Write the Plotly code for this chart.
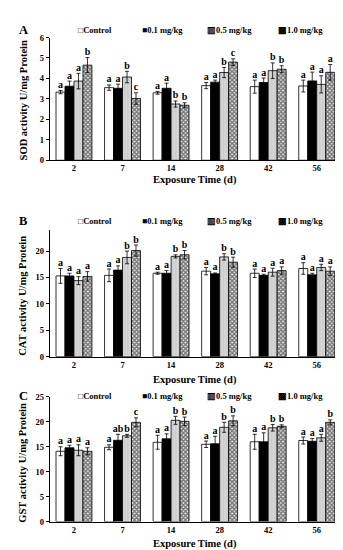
import plotly.graph_objects as go

W, H = 343, 550
days = ["2", "7", "14", "28", "42", "56"]
groups = ["Control", "0.1 mg/kg", "0.5 mg/kg", "1.0 mg/kg"]
legend_marks = ["\u25a1", "\u25a0", "\u25a5", "\u25a9"]

# SOD (panel A)
sod_control = [3.33, 3.55, 3.30, 3.65, 3.60, 3.63]
sod_control_err = [0.08, 0.13, 0.07, 0.15, 0.32, 0.29]
sod_01 = [3.62, 3.52, 3.52, 3.82, 3.80, 3.88]
sod_01_err = [0.25, 0.20, 0.25, 0.10, 0.22, 0.43]
sod_05 = [3.87, 4.07, 2.75, 4.29, 4.38, 3.71]
sod_05_err = [0.38, 0.28, 0.15, 0.25, 0.38, 0.42]
sod_10 = [4.65, 3.02, 2.69, 4.80, 4.45, 4.30]
sod_10_err = [0.37, 0.28, 0.12, 0.16, 0.17, 0.38]
sod_letters = [["a"] * 6, ["a"] * 6,
               ["a", "b", "b", "b", "b", "a"],
               ["b", "c", "b", "c", "b", "a"]]

# CAT (panel B)
cat_control = [15.3, 15.4, 15.8, 16.2, 15.8, 16.7]
cat_control_err = [1.4, 1.2, 0.2, 0.7, 0.8, 1.1]
cat_01 = [15.3, 16.4, 15.8, 15.7, 15.4, 15.5]
cat_01_err = [0.5, 0.8, 0.5, 0.15, 0.2, 0.3]
cat_05 = [14.4, 18.8, 19.0, 18.9, 16.0, 16.9]
cat_05_err = [0.75, 1.2, 0.3, 0.6, 0.75, 0.6]
cat_10 = [15.2, 20.1, 19.3, 17.9, 16.3, 16.2]
cat_10_err = [0.9, 1.05, 0.8, 0.95, 0.7, 0.8]
cat_letters = [["a"] * 6, ["a"] * 6,
               ["a", "b", "b", "b", "a", "a"],
               ["a", "b", "b", "b", "a", "a"]]

# GST (panel C)
gst_control = [14.1, 14.9, 15.9, 15.5, 16.0, 16.25]
gst_control_err = [0.9, 0.5, 1.4, 0.65, 1.5, 0.7]
gst_01 = [14.8, 16.3, 16.6, 15.6, 16.0, 16.1]
gst_01_err = [0.5, 1.2, 1.0, 1.5, 1.8, 0.55]
gst_05 = [14.3, 17.2, 20.3, 18.9, 18.8, 16.8]
gst_05_err = [1.1, 0.3, 0.8, 1.0, 0.65, 0.7]
gst_10 = [14.1, 19.9, 20.1, 20.2, 19.1, 19.9]
gst_10_err = [0.7, 0.9, 0.85, 1.0, 0.3, 0.5]
gst_letters = [["a"] * 6, ["a", "ab", "a", "a", "a", "a"],
               ["a", "b", "b", "b", "b", "a"],
               ["a", "c", "b", "b", "b", "b"]]

panels = [
    dict(label="A", title="SOD activity U/mg Protein",
         vals=[sod_control, sod_01, sod_05, sod_10],
         errs=[sod_control_err, sod_01_err, sod_05_err, sod_10_err],
         letters=sod_letters, yrange=[0, 6], dtick=1,
         top=25, bottom=150, legend_y=17, xtitle_y=170, ytitle_y=89),
    dict(label="B", title="CAT activity U/mg Protein",
         vals=[cat_control, cat_01, cat_05, cat_10],
         errs=[cat_control_err, cat_01_err, cat_05_err, cat_10_err],
         letters=cat_letters, yrange=[0, 24], dtick=5,
         top=221, bottom=350, legend_y=212, xtitle_y=374, ytitle_y=288),
    dict(label="C", title="GST activity U/mg Protein",
         vals=[gst_control, gst_01, gst_05, gst_10],
         errs=[gst_control_err, gst_01_err, gst_05_err, gst_10_err],
         letters=gst_letters, yrange=[0, 25], dtick=5,
         top=391, bottom=518, legend_y=390, xtitle_y=541, ytitle_y=458),
]

FONT = "Liberation Serif"
styles = [
    dict(color="white", pattern=None),
    dict(color="black", pattern=None),
    dict(color="#d0d0d0", pattern=dict(shape="|", fgcolor="#f0f0f0", bgcolor="#cccccc", size=3, solidity=0.3)),
    dict(color="#606060", pattern=dict(shape="x", fgcolor="#000000", bgcolor="#f4f4f4", size=3, solidity=0.75)),
]

fig = go.Figure()
annotations = []
x_left, x_right = 41.7 / W, 333 / W

for p_i, p in enumerate(panels):
    sfx = "" if p_i == 0 else str(p_i + 1)
    xa, ya = "x" + sfx, "y" + sfx
    for g_i, g in enumerate(groups):
        st = styles[g_i]
        marker = dict(color=st["color"], line=dict(color="black", width=0.8))
        if st["pattern"]:
            marker["pattern"] = st["pattern"]
        fig.add_trace(go.Bar(
            x=days, y=p["vals"][g_i], name=g, xaxis=xa, yaxis=ya,
            marker=marker, showlegend=False,
            error_y=dict(type="data", array=p["errs"][g_i], color="black",
                         thickness=0.8, width=2),
        ))
    for g_i, g in enumerate(groups):
        tops = [v + e for v, e in zip(p["vals"][g_i], p["errs"][g_i])]
        fig.add_trace(go.Scatter(
            x=days, y=tops, mode="text", text=p["letters"][g_i],
            textposition="top center", xaxis=xa, yaxis=ya, showlegend=False,
            textfont=dict(family=FONT, size=10, color="black", weight="bold"),
            hoverinfo="skip", name=g + " letters",
        ))
    dom = [1 - p["bottom"] / H, 1 - p["top"] / H]
    fig.update_layout(**{
        "xaxis" + sfx: dict(domain=[x_left, x_right], anchor=ya,
                            showline=True, linecolor="black", linewidth=1,
                            ticks="", tickfont=dict(family=FONT, size=8.5, color="black", weight="bold"),
                            fixedrange=True, type="category"),
        "yaxis" + sfx: dict(domain=dom, anchor=xa, range=p["yrange"], dtick=p["dtick"],
                            showline=True, linecolor="black", linewidth=1,
                            ticks="outside", ticklen=3, tickcolor="black",
                            showgrid=False, zeroline=False,
                            tickfont=dict(family=FONT, size=8.5, color="black", weight="bold")),
    })
    # panel label
    annotations.append(dict(text="<b>%s</b>" % p["label"], x=15 / W, y=1 - p["legend_y"] / H,
                            xref="paper", yref="paper", xanchor="center", yanchor="middle",
                            showarrow=False, font=dict(family=FONT, size=12.5, color="black")))
    # legend
    for g_i, (g, mk, lx) in enumerate(zip(groups, legend_marks, [68, 132, 197, 268])):
        annotations.append(dict(text="<b>%s%s</b>" % (mk, g), x=lx / W, y=1 - p["legend_y"] / H,
                                xref="paper", yref="paper", xanchor="left", yanchor="middle",
                                showarrow=False, font=dict(family=FONT, size=8.5, color="black")))
    # axis titles
    annotations.append(dict(text="<b>Exposure Time (d)</b>", x=(x_left + x_right) / 2,
                            y=1 - p["xtitle_y"] / H, xref="paper", yref="paper",
                            xanchor="center", yanchor="middle",
                            showarrow=False, font=dict(family=FONT, size=10.5, color="black")))
    annotations.append(dict(text="<b>%s</b>" % p["title"], x=15 / W, y=1 - p["ytitle_y"] / H,
                            xref="paper", yref="paper", textangle=-90, showarrow=False,
                            xanchor="center", yanchor="middle",
                            font=dict(family=FONT, size=10.5, color="black")))

fig.update_layout(
    width=W, height=H, margin=dict(l=0, r=0, t=0, b=0),
    paper_bgcolor="white", plot_bgcolor="white",
    barmode="group", bargap=0.26, bargroupgap=0,
    scattermode="group", scattergap=0.26,
    annotations=annotations, showlegend=False,
    font=dict(family=FONT, color="black"),
)

fig.write_html("out.html")
